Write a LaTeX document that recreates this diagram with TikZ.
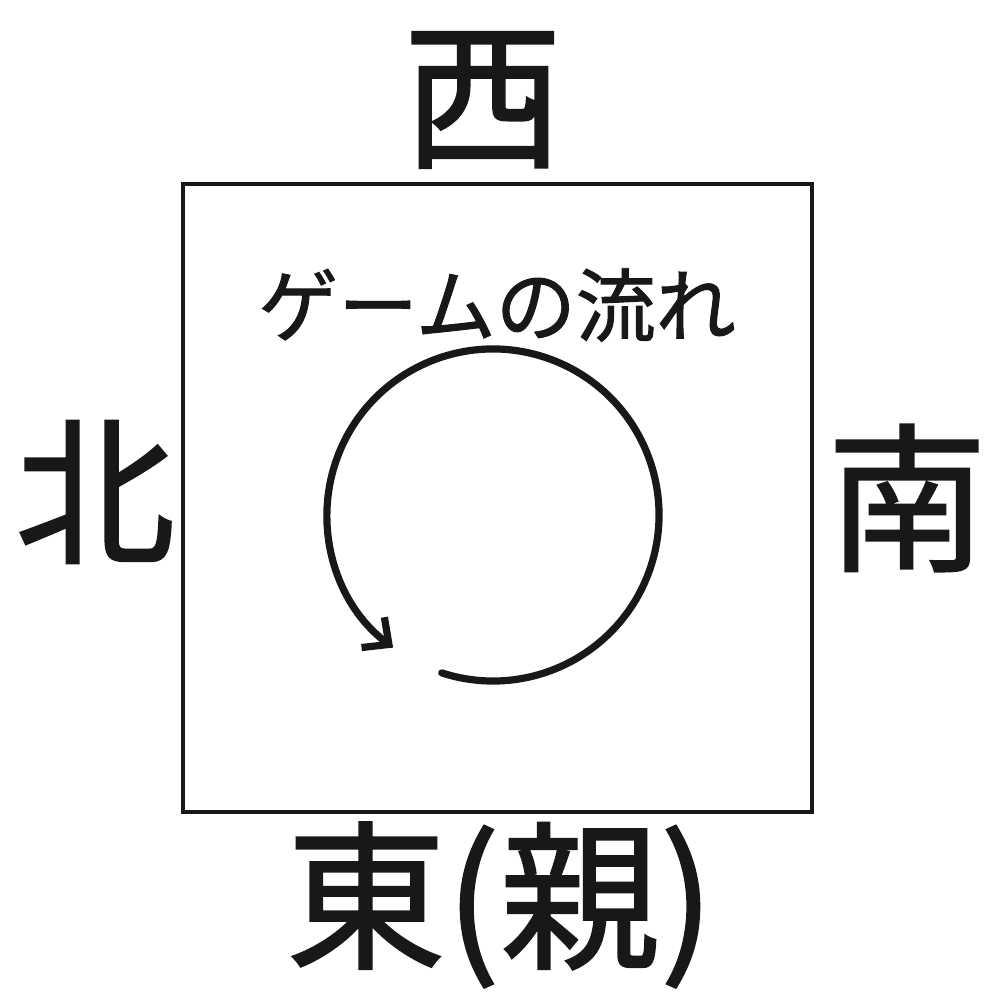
\documentclass[tikz,border=0pt]{standalone}
\usepackage{fontspec}
\setmainfont{Noto Sans CJK JP}[FakeBold=1.2]
\usetikzlibrary{arrows.meta}
\definecolor{ink}{HTML}{1A1718}
\begin{document}
\begin{tikzpicture}[x=0.5pt,y=0.5pt,
  dir/.style={inner sep=0pt, text=ink, font=\fontsize{80}{80}\selectfont},
  title/.style={inner sep=0pt, text=ink, font=\fontsize{40}{40}\selectfont},
  board/.style={draw=ink, line width=1.8pt},
  flow/.style={draw=ink, line width=3.6pt, line cap=round, -{Straight Barb[length=10pt,width=19pt,line width=3.6pt]}}]
\useasboundingbox (0,0) rectangle (1000,1000);
\draw[board] (183,188) rectangle (812,816);
\node[dir] (west) at (483,900) {西};
\node[dir] (north) at (95,508) {北};
\node[dir] (south) at (907,502) {南};
\node[dir] (east) at (500,95) {東(親)};
\node[title] (flowtxt) at (497,695) {ゲームの流れ};
\coordinate (c) at (493,485);
\draw[flow] ([shift={(-108:166)}]c) arc[start angle=-108, end angle=233, radius=166];
\end{tikzpicture}
\end{document}
